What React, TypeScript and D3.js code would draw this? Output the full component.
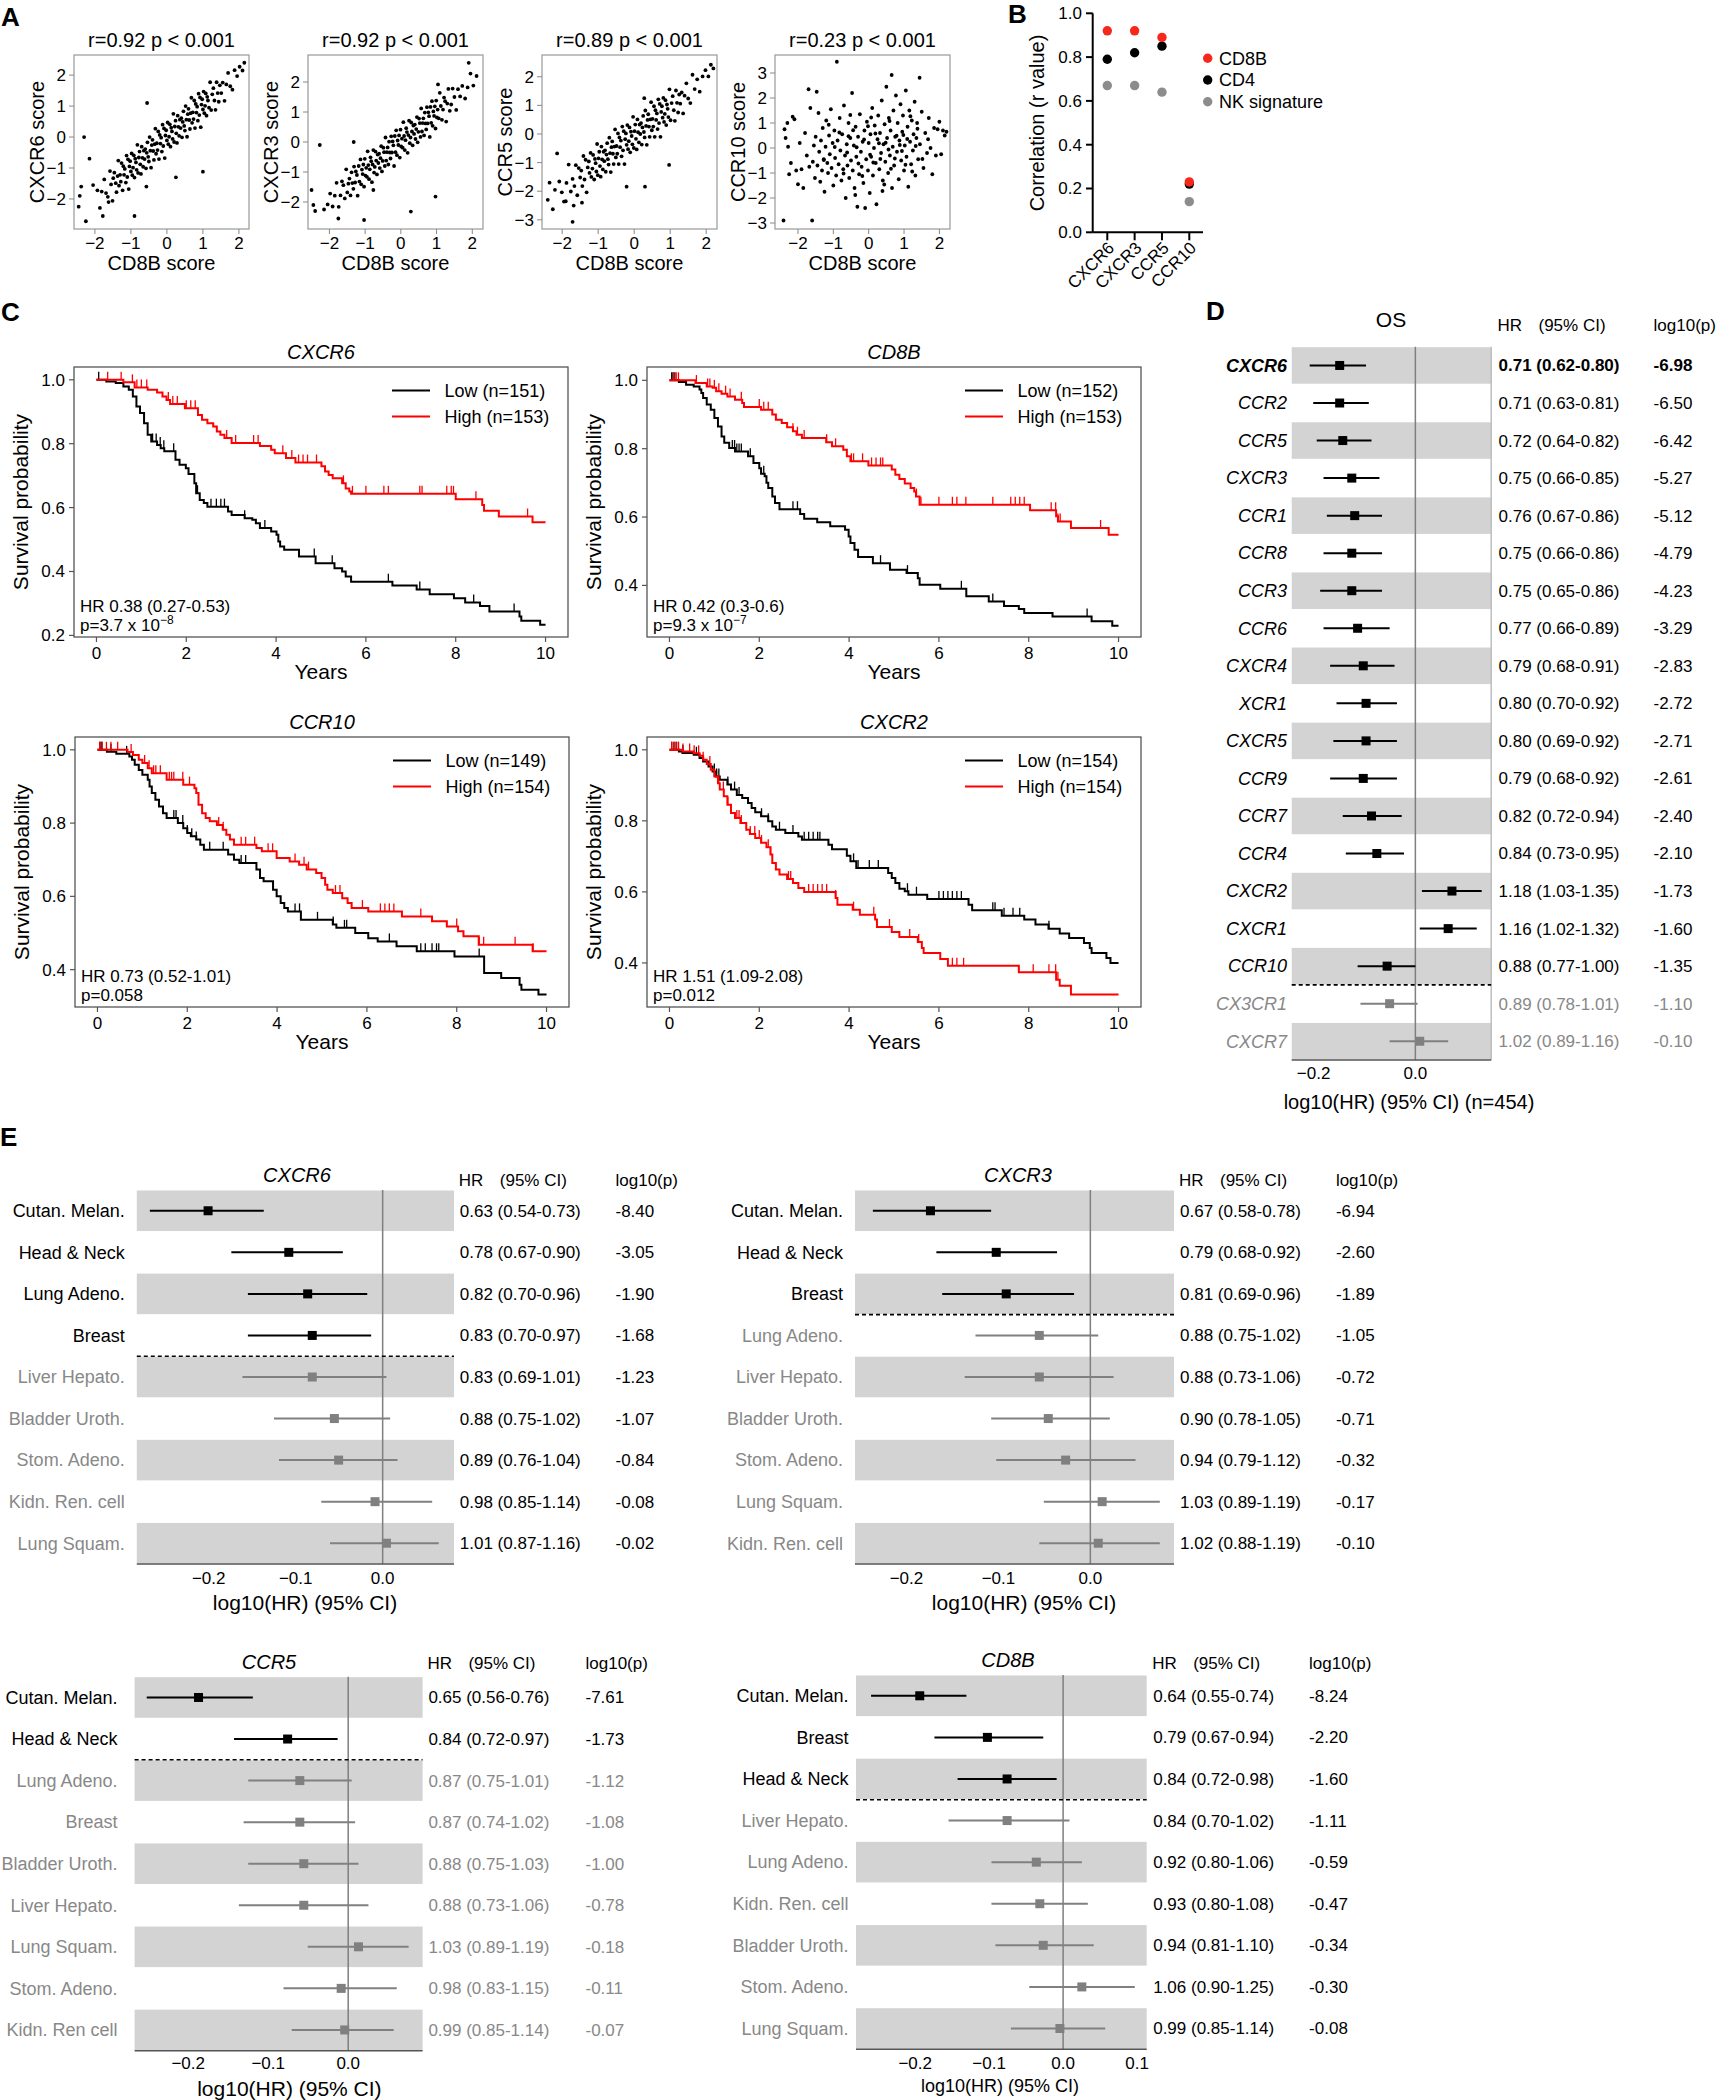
import React from 'react';
import * as d3 from 'd3';

const FONT = "'Liberation Sans', Arial, Helvetica, sans-serif";
const RED = '#ff0000';
const GREY = '#888888';
const BAND = '#d3d3d3';
const fmtSigned = (v: number, d: number) => (v < 0 ? '\u2212' : '') + Math.abs(v).toFixed(d);

// ---------------- Panel A data ----------------
const scatterXLabel = 'CD8B score';
const scatterXTicks = [-2, -1, 0, 1, 2];
const scatterTitles = ['r=0.92 p < 0.001', 'r=0.92 p < 0.001', 'r=0.89 p < 0.001', 'r=0.23 p < 0.001'];
const scatterYLabels = ['CXCR6 score', 'CXCR3 score', 'CCR5 score', 'CCR10 score'];

const ptsCXCR6 = [[-2.45,-2.25],[-2.38,-1.6],[-2.3,0.0],[-2.25,-2.72],[-2.42,-1.9],[-2.15,-0.7],[-1.78,-2.55],[-0.9,-2.55],[-0.55,1.1],[1.0,-1.12],[0.25,-1.3],[-0.57,-1.6],[-2.05,-1.55],[-1.62,-2.1],
[-1.93,-1.72],[-1.86,-2.29],[-1.81,-1.76],[-1.74,-1.37],[-1.69,-1.81],[-1.64,-1.93],[-1.58,-1.1],[-1.55,-1.53],[-1.51,-2.06],[-1.49,-1.33],[-1.46,-1.15],[-1.42,-1.49],[-1.4,-1.78],[-1.37,-1.26],[-1.35,-0.76],[-1.33,-1.57],[-1.3,-1.22],[-1.28,-1.44],[-1.26,-0.84],[-1.23,-1.72],[-1.21,-0.94],[-1.19,-1.22],[-1.17,-1.03],[-1.14,-1.47],[-1.12,-0.6],[-1.1,-1.29],[-1.08,-0.72],[-1.06,-1.68],[-1.04,-0.95],[-1.02,-0.78],[-1.0,-1.11],[-0.98,-0.53],[-0.96,-1.23],[-0.94,-0.99],[-0.92,-0.59],[-0.9,-1.31],[-0.88,-0.7],[-0.86,-0.82],[-0.84,-1.06],[-0.82,-0.25],[-0.8,-1.16],[-0.78,-0.66],[-0.76,-0.47],[-0.74,-0.88],[-0.72,-1.19],[-0.7,-0.31],[-0.68,-0.67],[-0.66,-0.96],[-0.64,-0.44],[-0.62,-0.71],[-0.6,-0.39],[-0.58,-1.01],[-0.56,-0.51],[-0.54,-0.17],[-0.52,-0.64],[-0.5,-0.79],[-0.48,0.0],[-0.46,-0.44],[-0.44,-0.99],[-0.42,-0.26],[-0.4,-0.09],[-0.38,-0.45],[-0.36,-0.74],[-0.34,-0.23],[-0.32,0.27],[-0.3,-0.54],[-0.28,-0.2],[-0.26,-0.42],[-0.24,0.18],[-0.22,-0.71],[-0.2,0.07],[-0.18,-0.21],[-0.16,-0.02],[-0.14,-0.47],[-0.12,0.4],[-0.1,-0.29],[-0.08,0.28],[-0.06,-0.68],[-0.04,0.05],[-0.02,0.22],[0.0,-0.11],[0.02,0.47],[0.04,-0.23],[0.06,0.01],[0.08,0.41],[0.1,-0.31],[0.12,0.3],[0.14,0.18],[0.16,-0.06],[0.18,0.75],[0.2,-0.16],[0.22,0.34],[0.24,0.53],[0.26,0.12],[0.28,-0.19],[0.3,0.69],[0.32,0.33],[0.34,0.04],[0.36,0.56],[0.38,0.29],[0.4,0.61],[0.42,-0.01],[0.44,0.49],[0.46,0.83],[0.48,0.36],[0.5,0.21],[0.52,1.0],[0.54,0.56],[0.56,0.01],[0.58,0.74],[0.6,0.91],[0.62,0.55],[0.64,0.26],[0.66,0.77],[0.68,1.27],[0.7,0.46],[0.72,0.8],[0.74,0.58],[0.76,1.18],[0.78,0.29],[0.8,1.07],[0.82,0.79],[0.84,0.98],[0.86,0.53],[0.88,1.4],[0.9,0.71],[0.92,1.28],[0.94,0.32],[0.96,1.05],[0.98,1.22],[1.0,0.89],[1.02,1.47],[1.04,0.77],[1.06,1.01],[1.08,1.41],[1.1,0.69],[1.12,1.3],[1.14,1.18],[1.17,0.95],[1.2,1.77],[1.23,0.87],[1.26,1.38],[1.29,1.58],[1.32,1.18],[1.35,0.88],[1.38,1.77],[1.41,1.42],[1.44,1.14],[1.47,1.67],[1.51,1.42],[1.55,1.76],[1.6,1.17],[1.65,1.7],[1.7,2.07],[1.76,1.64],[1.82,1.53],[1.88,2.16],[1.95,1.97],[2.02,2.27],[2.1,2.15],[2.15,2.4]];

const ptsCXCR3 = [[-2.27,-0.1],[-1.32,0.0],[-1.03,-2.6],[-1.75,-2.55],[0.28,-2.32],[0.97,-1.82],[1.04,1.92],[1.9,2.64],[-2.45,-2.1],[-2.5,-1.6],[-2.4,-2.3],[-2.15,-2.25],[-0.77,-1.6],
[-2.05,-2.08],[-1.98,-1.72],[-1.91,-2.15],[-1.85,-1.79],[-1.8,-1.36],[-1.74,-2.16],[-1.69,-1.78],[-1.65,-1.31],[-1.61,-1.44],[-1.57,-1.88],[-1.53,-0.91],[-1.5,-1.68],[-1.47,-1.39],[-1.44,-1.22],[-1.41,-1.78],[-1.38,-1.01],[-1.36,-1.37],[-1.33,-1.56],[-1.31,-0.82],[-1.28,-1.35],[-1.26,-0.98],[-1.23,-1.1],[-1.21,-1.79],[-1.18,-0.8],[-1.16,-1.32],[-1.13,-0.58],[-1.11,-1.41],[-1.09,-0.92],[-1.07,-1.07],[-1.05,-0.75],[-1.03,-1.49],[-1.01,-0.56],[-0.99,-1.12],[-0.97,-0.86],[-0.95,-1.16],[-0.93,-0.31],[-0.91,-0.77],[-0.89,-1.24],[-0.87,-0.91],[-0.85,-0.51],[-0.83,-0.64],[-0.81,-1.34],[-0.79,-0.75],[-0.77,-0.27],[-0.75,-1.02],[-0.73,-0.83],[-0.71,-0.32],[-0.69,-0.62],[-0.67,-1.08],[-0.65,-0.42],[-0.63,-0.7],[-0.61,-0.39],[-0.59,-0.87],[-0.57,-0.54],[-0.55,-0.14],[-0.53,-0.98],[-0.51,-0.63],[-0.49,-0.19],[-0.47,-0.34],[-0.45,-0.8],[-0.43,0.15],[-0.41,-0.62],[-0.39,-0.34],[-0.37,-0.18],[-0.35,-0.75],[-0.33,0.01],[-0.31,-0.35],[-0.29,-0.55],[-0.27,0.19],[-0.25,-0.35],[-0.23,0.02],[-0.21,-0.11],[-0.19,-0.8],[-0.17,0.2],[-0.15,-0.34],[-0.13,0.39],[-0.11,-0.44],[-0.09,0.05],[-0.07,-0.1],[-0.05,0.22],[-0.03,-0.52],[-0.01,0.41],[0.01,-0.15],[0.03,0.11],[0.05,-0.19],[0.07,0.66],[0.09,0.2],[0.11,-0.27],[0.13,0.06],[0.15,0.46],[0.17,0.33],[0.19,-0.36],[0.21,0.23],[0.23,0.71],[0.25,-0.04],[0.27,0.15],[0.29,0.65],[0.31,0.35],[0.33,-0.11],[0.35,0.55],[0.37,0.27],[0.39,0.58],[0.41,0.1],[0.43,0.43],[0.45,0.83],[0.47,-0.01],[0.49,0.34],[0.51,0.78],[0.53,0.63],[0.55,0.17],[0.57,1.12],[0.59,0.35],[0.61,0.63],[0.63,0.79],[0.65,0.22],[0.67,0.98],[0.69,0.62],[0.71,0.42],[0.73,1.16],[0.75,0.62],[0.77,0.99],[0.79,0.86],[0.81,0.17],[0.83,1.17],[0.85,0.64],[0.87,1.36],[0.89,0.54],[0.91,1.02],[0.93,0.87],[0.95,1.19],[0.97,0.45],[0.99,1.38],[1.01,0.82],[1.03,1.08],[1.06,0.79],[1.09,1.64],[1.12,1.2],[1.15,0.74],[1.18,1.08],[1.21,1.48],[1.24,1.36],[1.27,0.68],[1.3,1.28],[1.33,1.77],[1.37,1.04],[1.41,1.25],[1.45,1.78],[1.5,1.5],[1.55,1.07],[1.6,1.76],[1.66,1.52],[1.72,1.87],[1.8,1.45],[1.87,1.82],[1.95,2.28],[2.03,1.88],[2.12,2.2]];

const ptsCCR5 = [[-2.26,-2.63],[-1.71,-3.07],[-2.14,-0.68],[-0.21,-1.84],[0.3,-1.84],[0.97,-1.08],[0.28,1.25],[-2.4,-2.3],[-2.35,-1.7],[-1.68,-2.5],[-1.45,-2.4],[-1.9,-2.35],[-2.2,-1.95],
[-2.08,-1.66],[-2.01,-2.04],[-1.95,-2.36],[-1.88,-1.71],[-1.82,-1.07],[-1.76,-2.01],[-1.71,-1.57],[-1.66,-1.82],[-1.62,-1.09],[-1.58,-2.14],[-1.54,-1.19],[-1.5,-1.52],[-1.47,-1.28],[-1.44,-1.82],[-1.41,-0.77],[-1.38,-1.59],[-1.35,-0.9],[-1.32,-2.04],[-1.29,-1.17],[-1.26,-0.96],[-1.24,-1.36],[-1.21,-0.66],[-1.19,-1.5],[-1.16,-1.21],[-1.14,-0.73],[-1.11,-1.59],[-1.09,-0.87],[-1.07,-1.02],[-1.05,-1.31],[-1.03,-0.35],[-1.01,-1.44],[-0.99,-0.85],[-0.97,-0.62],[-0.95,-1.12],[-0.93,-1.49],[-0.91,-0.44],[-0.89,-0.89],[-0.87,-1.24],[-0.85,-0.62],[-0.83,-0.95],[-0.81,-0.57],[-0.79,-1.32],[-0.77,-0.72],[-0.75,-0.32],[-0.73,-0.88],[-0.71,-1.07],[-0.69,-0.13],[-0.67,-0.67],[-0.65,-1.33],[-0.63,-0.46],[-0.61,-0.26],[-0.59,-0.69],[-0.57,-1.05],[-0.55,-0.44],[-0.53,0.16],[-0.51,-0.82],[-0.49,-0.42],[-0.47,-0.69],[-0.45,0.02],[-0.43,-1.05],[-0.41,-0.12],[-0.39,-0.46],[-0.37,-0.23],[-0.35,-0.78],[-0.33,0.26],[-0.31,-0.57],[-0.29,0.1],[-0.27,-1.05],[-0.25,-0.18],[-0.23,0.02],[-0.21,-0.38],[-0.19,0.31],[-0.17,-0.53],[-0.15,-0.25],[-0.13,0.23],[-0.11,-0.64],[-0.09,0.08],[-0.07,-0.07],[-0.05,-0.36],[-0.03,0.6],[-0.01,-0.49],[0.01,0.1],[0.03,0.33],[0.05,-0.17],[0.07,-0.54],[0.09,0.51],[0.11,0.06],[0.13,-0.29],[0.15,0.33],[0.17,0.0],[0.19,0.38],[0.21,-0.37],[0.23,0.23],[0.25,0.63],[0.27,0.07],[0.29,-0.12],[0.31,0.82],[0.33,0.28],[0.35,-0.38],[0.37,0.49],[0.39,0.69],[0.41,0.26],[0.43,-0.1],[0.45,0.51],[0.47,1.11],[0.49,0.13],[0.51,0.53],[0.53,0.26],[0.55,0.97],[0.57,-0.1],[0.59,0.83],[0.61,0.49],[0.63,0.72],[0.65,0.17],[0.67,1.21],[0.69,0.38],[0.71,1.05],[0.73,-0.1],[0.75,0.77],[0.77,0.97],[0.79,0.57],[0.81,1.26],[0.83,0.42],[0.85,0.7],[0.87,1.18],[0.89,0.31],[0.91,1.03],[0.93,0.88],[0.95,0.59],[0.98,1.56],[1.01,0.48],[1.04,1.08],[1.07,1.32],[1.1,0.83],[1.13,0.46],[1.16,1.52],[1.19,1.09],[1.22,0.75],[1.25,1.38],[1.28,1.06],[1.32,1.45],[1.36,0.72],[1.4,1.34],[1.45,1.77],[1.5,1.24],[1.56,1.08],[1.62,2.07],[1.68,1.57],[1.75,1.91],[1.82,1.48],[1.9,2.01],[1.98,2.23],[2.06,2.01],[2.13,2.42],[2.2,2.29]];

const ptsCCR10 = [[-2.41,-2.9],[-2.38,0.75],[-2.35,0.4],[-2.3,1.0],[-2.28,0.05],[-2.25,-1.05],[-2.2,-0.6],[-2.15,1.25],[-2.1,1.15],[-2.05,-0.9],[-2.0,-1.45],[-1.95,0.2],[-1.9,-0.85],[-1.85,-1.6],[-1.8,0.6],[-1.75,-0.3],[-1.7,2.35],[-1.68,-0.75],[-1.65,1.6],[-1.6,-2.9],[-1.58,-0.55],[-1.55,0.1],[-1.52,-1.2],[-1.5,0.45],[-1.47,2.25],[-1.45,-0.7],[-1.42,1.4],[-1.4,-0.15],[-1.37,-1.35],[-1.35,0.3],[-1.32,-0.9],[-1.3,0.8],[-1.27,-0.45],[-1.25,-1.75],[-1.22,0.05],[-1.2,1.1],[-1.17,-0.6],[-1.15,-1.0],[-1.12,0.5],[-1.1,-0.25],[-1.07,1.55],[-1.05,-0.8],[-1.02,0.2],[-1.0,-1.5],[-0.97,0.7],[-0.95,-0.4],[-0.92,-1.1],[-0.9,3.45],[-0.88,0.3],[-0.85,-0.65],[-0.82,1.2],[-0.8,-0.1],[-0.77,-1.3],[-0.75,0.55],[-0.72,-0.85],[-0.7,1.7],[-0.67,-0.3],[-0.65,-2.0],[-0.62,0.15],[-0.6,-0.7],[-0.57,1.0],[-0.55,-1.2],[-0.52,0.4],[-0.5,-0.5],[-0.47,2.2],[-0.45,-0.9],[-0.42,0.1],[-0.4,-1.6],[-0.37,0.85],[-0.35,-0.35],[-0.32,-2.35],[-0.3,0.45],[-0.27,-1.05],[-0.25,1.35],[-0.22,-0.15],[-0.2,-0.75],[-0.17,0.25],[-0.15,-1.4],[-0.12,0.7],[-0.1,-2.4],[-0.07,-0.45],[-0.05,1.05],[-0.02,-0.9],[0.0,0.2],[0.03,-1.8],[0.05,0.55],[0.07,-0.35],[0.1,1.6],[0.12,-1.1],[0.15,0.0],[0.17,0.9],[0.2,-0.6],[0.22,-2.25],[0.25,0.35],[0.27,1.3],[0.3,-0.85],[0.32,0.6],[0.35,-0.2],[0.37,1.9],[0.4,-1.3],[0.42,0.15],[0.45,0.95],[0.47,-0.55],[0.5,2.45],[0.52,0.4],[0.55,-1.0],[0.57,1.2],[0.6,-0.3],[0.62,0.7],[0.65,2.92],[0.66,-1.6],[0.68,0.05],[0.7,1.5],[0.72,-0.7],[0.75,0.45],[0.77,2.1],[0.8,-0.15],[0.82,1.0],[0.85,-1.25],[0.87,0.3],[0.9,1.75],[0.92,-0.5],[0.95,0.65],[0.97,1.3],[1.0,-0.9],[1.02,0.1],[1.05,2.3],[1.07,-0.35],[1.1,0.85],[1.12,-1.55],[1.15,1.5],[1.17,0.25],[1.2,-0.65],[1.22,1.1],[1.25,-0.1],[1.27,0.55],[1.3,1.85],[1.32,-1.1],[1.35,0.4],[1.37,1.0],[1.4,-0.45],[1.44,2.81],[1.45,0.15],[1.5,1.45],[1.55,-0.8],[1.6,0.6],[1.65,-0.2],[1.7,1.2],[1.75,0.0],[1.8,-1.05],[1.85,0.8],[1.9,-0.3],[1.95,0.75],[2.0,1.05],[2.05,-0.25],[2.1,0.7],[2.15,0.5],[2.2,0.65],
[-0.83,0.62],[-0.61,-0.18],[-0.44,0.71],[-0.29,-0.62],[-0.13,0.34],[0.04,-0.27],[0.19,0.58],[0.33,-0.44],[0.48,0.21],[0.63,-0.83],[0.79,0.49],[0.94,-0.12],[1.09,0.36],[1.23,-0.94],[1.38,0.77],[-0.71,-1.02],[-0.52,1.32],[-0.34,0.03],[-0.18,-1.12],[-0.02,0.87],[0.13,-0.58],[0.29,0.19],[0.44,-1.46],[0.59,1.08],[0.74,-0.42],[0.88,0.12],[1.04,-0.67],[1.18,1.27],[1.33,0.08],[-0.96,0.04],[-1.13,0.93],[-1.27,-0.48],[-0.57,0.47],[0.07,1.22],[0.56,-0.06],[0.98,0.52],[1.52,-0.44],[1.68,0.35],[-0.38,-1.88],[0.39,-1.72]];

// ---------------- Panel B data ----------------
const corrGenes = ['CXCR6', 'CXCR3', 'CCR5', 'CCR10'];
const corrCD8B = [0.92, 0.92, 0.89, 0.23];
const corrCD4 = [0.79, 0.82, 0.85, 0.22];
const corrNK = [0.67, 0.67, 0.64, 0.14];
const corrSeriesNames = ['CD8B', 'CD4', 'NK signature'];
const corrColors = ['#f5281b', '#000000', '#8c8c8c'];
const corrTicks = [0, 0.2, 0.4, 0.6, 0.8, 1.0];

// ---------------- Panel C data (Kaplan-Meier steps: [years, survival]) ----------------
const kmXTicks = [0, 2, 4, 6, 8, 10];
const cxcr6Low = [[0.22,0.995],[0.43,0.99],[0.6,0.979],[0.72,0.969],[0.81,0.948],[0.89,0.916],[0.97,0.896],[1.06,0.864],[1.14,0.828],[1.22,0.807],[1.35,0.796],[1.43,0.786],[1.51,0.776],[1.76,0.75],[1.85,0.734],[1.99,0.723],[2.05,0.705],[2.18,0.676],[2.22,0.645],[2.3,0.624],[2.39,0.614],[2.47,0.603],[2.93,0.588],[3.01,0.577],[3.3,0.567],[3.47,0.562],[3.55,0.551],[3.64,0.536],[3.89,0.525],[4.01,0.515],[4.05,0.494],[4.09,0.478],[4.18,0.468],[4.51,0.447],[4.88,0.426],[5.3,0.41],[5.47,0.4],[5.55,0.384],[5.67,0.368],[6.59,0.356],[7.13,0.344],[7.42,0.329],[7.96,0.316],[8.21,0.303],[8.54,0.292],[8.75,0.275],[9.42,0.259],[9.46,0.246],[9.88,0.233]];
const cxcr6LowCens = [0.05,1.25,1.33,1.42,1.5,1.72,2.25,2.55,2.67,2.77,2.85,3.3,3.75,4.85,5.25,6.5,7.2,8.4,9.3];
const cxcr6High = [[0.6,0.992],[0.85,0.976],[1.14,0.969],[1.35,0.96],[1.47,0.948],[1.56,0.937],[1.64,0.924],[1.97,0.911],[2.26,0.89],[2.35,0.875],[2.47,0.864],[2.6,0.854],[2.68,0.838],[2.76,0.828],[2.85,0.818],[3.01,0.802],[3.64,0.793],[3.89,0.781],[3.97,0.77],[4.22,0.755],[4.43,0.741],[5.01,0.729],[5.09,0.713],[5.17,0.702],[5.26,0.692],[5.47,0.676],[5.55,0.66],[5.63,0.65],[5.67,0.643],[8.0,0.626],[8.59,0.608],[8.63,0.59],[8.96,0.572],[9.71,0.554]];
const cxcr6HighCens = [0.25,0.55,0.8,0.9,1.0,1.12,1.6,1.7,1.8,2.0,2.1,2.2,2.9,3.1,3.5,3.6,4.15,4.35,4.5,4.6,4.7,4.9,5.5,5.7,6.0,6.4,6.5,7.2,7.25,7.8,7.9,7.95,8.45,9.6];

const cd8bLow = [[0.21,0.995],[0.37,0.987],[0.54,0.982],[0.67,0.973],[0.71,0.963],[0.75,0.948],[0.83,0.929],[0.92,0.914],[1.0,0.89],[1.08,0.865],[1.16,0.836],[1.22,0.817],[1.33,0.802],[1.46,0.792],[1.75,0.778],[1.87,0.758],[2.0,0.743],[2.04,0.727],[2.12,0.719],[2.16,0.7],[2.2,0.685],[2.29,0.66],[2.35,0.641],[2.45,0.623],[2.91,0.609],[3.0,0.595],[3.29,0.585],[3.58,0.573],[3.91,0.563],[3.99,0.543],[4.03,0.524],[4.12,0.504],[4.2,0.483],[4.53,0.465],[4.91,0.446],[5.28,0.436],[5.53,0.421],[5.57,0.402],[6.03,0.39],[6.61,0.368],[7.11,0.353],[7.45,0.34],[7.78,0.331],[7.9,0.319],[8.53,0.309],[9.4,0.295],[9.86,0.282]];
const cd8bLowCens = [0.05,0.08,0.12,1.4,1.45,1.5,1.55,1.6,1.8,2.1,2.75,2.85,4.7,5.3,6.5,7.2,9.3];
const cd8bHigh = [[0.58,0.992],[0.83,0.982],[0.96,0.978],[1.04,0.968],[1.16,0.961],[1.29,0.953],[1.46,0.943],[1.62,0.934],[1.66,0.922],[2.04,0.914],[2.29,0.9],[2.37,0.885],[2.5,0.875],[2.62,0.863],[2.75,0.851],[2.83,0.841],[2.95,0.831],[3.49,0.819],[3.62,0.807],[3.87,0.797],[3.95,0.778],[4.03,0.763],[4.43,0.751],[4.95,0.739],[5.03,0.724],[5.12,0.711],[5.24,0.698],[5.37,0.685],[5.45,0.675],[5.49,0.66],[5.57,0.636],[8.03,0.62],[8.61,0.602],[8.65,0.587],[8.94,0.568],[9.78,0.548]];
const cd8bHighCens = [0.1,0.15,0.2,0.6,0.85,0.9,1.0,1.1,1.25,1.35,1.6,2.0,2.1,2.2,2.75,2.85,3.0,3.5,3.7,4.05,4.1,4.3,4.5,4.6,4.7,4.75,5.5,5.6,6.0,6.3,6.4,6.6,7.2,7.6,7.7,7.8,7.9,8.5,8.6,8.65,8.7,9.6];

const ccr10Low = [[0.21,0.995],[0.42,0.989],[0.71,0.982],[0.77,0.973],[0.83,0.959],[0.92,0.945],[1.0,0.932],[1.12,0.918],[1.16,0.9],[1.21,0.882],[1.29,0.864],[1.37,0.845],[1.46,0.827],[1.54,0.814],[1.79,0.8],[1.91,0.786],[2.0,0.773],[2.08,0.764],[2.2,0.755],[2.29,0.741],[2.37,0.727],[2.91,0.714],[3.04,0.7],[3.16,0.691],[3.54,0.673],[3.62,0.65],[3.7,0.641],[3.91,0.618],[3.99,0.6],[4.08,0.582],[4.16,0.568],[4.24,0.559],[4.53,0.536],[5.24,0.523],[5.32,0.514],[5.74,0.5],[6.03,0.486],[6.24,0.477],[6.66,0.464],[7.11,0.45],[7.95,0.436],[8.61,0.391],[8.99,0.377],[9.4,0.359],[9.44,0.345],[9.82,0.332]];
const ccr10LowCens = [0.05,0.08,0.1,0.3,0.65,1.7,1.75,1.9,2.0,2.1,2.2,2.5,2.8,3.2,3.3,4.4,4.5,4.9,5.25,5.5,5.55,6.5,7.2,7.3,7.45,7.55,7.6,8.5];
const ccr10High = [[0.67,0.994],[0.79,0.986],[0.92,0.973],[1.0,0.964],[1.12,0.95],[1.21,0.936],[1.54,0.918],[1.91,0.905],[2.16,0.895],[2.2,0.882],[2.25,0.85],[2.33,0.827],[2.41,0.814],[2.5,0.805],[2.66,0.795],[2.79,0.782],[2.87,0.768],[2.95,0.755],[3.04,0.741],[3.54,0.732],[3.66,0.723],[3.99,0.705],[4.28,0.695],[4.49,0.686],[4.66,0.673],[4.87,0.664],[4.99,0.65],[5.07,0.632],[5.12,0.618],[5.24,0.609],[5.45,0.595],[5.57,0.582],[5.66,0.568],[6.03,0.559],[6.78,0.545],[7.45,0.532],[7.78,0.518],[8.03,0.505],[8.15,0.491],[8.49,0.468],[9.69,0.45]];
const ccr10HighCens = [0.05,0.1,0.2,0.3,0.45,0.75,1.05,1.15,1.25,1.3,1.4,1.6,1.65,1.7,1.9,2.05,2.7,2.8,3.2,3.3,3.5,3.8,3.9,4.4,4.6,4.7,5.3,5.4,5.9,6.3,6.4,6.5,6.6,7.2,8.0,8.5,8.6,9.3,9.7];

const cxcr2Low = [[0.21,0.995],[0.29,0.991],[0.54,0.986],[0.67,0.977],[0.75,0.967],[0.87,0.953],[0.96,0.939],[1.04,0.925],[1.12,0.916],[1.29,0.902],[1.37,0.888],[1.5,0.873],[1.62,0.864],[1.75,0.85],[1.83,0.836],[1.91,0.824],[2.04,0.813],[2.2,0.799],[2.29,0.784],[2.37,0.775],[2.58,0.766],[2.87,0.756],[2.95,0.747],[3.54,0.733],[3.62,0.72],[3.95,0.702],[4.03,0.686],[4.16,0.667],[4.87,0.653],[4.95,0.639],[5.03,0.625],[5.12,0.609],[5.24,0.602],[5.32,0.592],[5.74,0.58],[6.66,0.564],[6.74,0.548],[7.4,0.533],[7.9,0.522],[8.15,0.508],[8.44,0.496],[8.69,0.483],[8.9,0.47],[9.23,0.456],[9.36,0.442],[9.4,0.428],[9.73,0.414],[9.82,0.4]];
const cxcr2LowCens = [0.05,0.1,0.15,0.2,0.3,0.6,1.0,1.05,1.1,1.3,1.45,1.55,2.05,2.2,2.45,2.75,3.0,3.1,3.2,3.3,3.35,4.1,4.2,4.45,4.65,5.3,5.5,6.0,6.1,6.2,6.3,6.4,6.5,7.2,7.25,7.45,7.65,7.8,8.45];
const cxcr2High = [[0.29,0.995],[0.54,0.99],[0.67,0.983],[0.75,0.972],[0.83,0.96],[0.92,0.944],[1.0,0.925],[1.08,0.906],[1.12,0.888],[1.21,0.869],[1.29,0.845],[1.37,0.822],[1.46,0.808],[1.58,0.794],[1.71,0.775],[1.79,0.763],[1.91,0.752],[2.04,0.738],[2.16,0.726],[2.25,0.705],[2.29,0.681],[2.37,0.663],[2.45,0.649],[2.62,0.636],[2.75,0.625],[2.87,0.611],[3.0,0.6],[3.7,0.583],[3.74,0.564],[4.08,0.55],[4.24,0.536],[4.58,0.522],[4.62,0.501],[4.95,0.487],[5.12,0.473],[5.53,0.459],[5.62,0.442],[5.66,0.428],[6.03,0.411],[6.2,0.392],[7.78,0.374],[8.61,0.353],[8.69,0.336],[8.94,0.311]];
const cxcr2HighCens = [0.05,0.1,0.15,0.2,0.3,0.45,0.55,0.65,0.75,0.9,1.0,1.1,1.2,1.3,1.5,1.55,1.6,1.8,1.9,2.0,2.05,2.2,2.25,2.65,2.7,3.1,3.2,3.3,3.4,3.5,3.7,4.1,4.55,4.9,5.35,5.55,6.3,6.4,6.55,8.1,8.45,8.6,8.65];

// ---------------- Panel D data ----------------
const dGenes = ['CXCR6','CCR2','CCR5','CXCR3','CCR1','CCR8','CCR3','CCR6','CXCR4','XCR1','CXCR5','CCR9','CCR7','CCR4','CXCR2','CXCR1','CCR10','CX3CR1','CXCR7'];
const dHR = [0.71,0.71,0.72,0.75,0.76,0.75,0.75,0.77,0.79,0.80,0.80,0.79,0.82,0.84,1.18,1.16,0.88,0.89,1.02];
const dLo = [0.62,0.63,0.64,0.66,0.67,0.66,0.65,0.66,0.68,0.70,0.69,0.68,0.72,0.73,1.03,1.02,0.77,0.78,0.89];
const dHi = [0.80,0.81,0.82,0.85,0.86,0.86,0.86,0.89,0.91,0.92,0.92,0.92,0.94,0.95,1.35,1.32,1.00,1.01,1.16];
const dP = [-6.98,-6.50,-6.42,-5.27,-5.12,-4.79,-4.23,-3.29,-2.83,-2.72,-2.71,-2.61,-2.40,-2.10,-1.73,-1.60,-1.35,-1.10,-0.10];

// ---------------- Panel E data ----------------
const eCXCR6Labels = ['Cutan. Melan.','Head & Neck','Lung Adeno.','Breast','Liver Hepato.','Bladder Uroth.','Stom. Adeno.','Kidn. Ren. cell','Lung Squam.'];
const eCXCR6HR = [0.63,0.78,0.82,0.83,0.83,0.88,0.89,0.98,1.01];
const eCXCR6Lo = [0.54,0.67,0.70,0.70,0.69,0.75,0.76,0.85,0.87];
const eCXCR6Hi = [0.73,0.90,0.96,0.97,1.01,1.02,1.04,1.14,1.16];
const eCXCR6P = [-8.40,-3.05,-1.90,-1.68,-1.23,-1.07,-0.84,-0.08,-0.02];

const eCXCR3Labels = ['Cutan. Melan.','Head & Neck','Breast','Lung Adeno.','Liver Hepato.','Bladder Uroth.','Stom. Adeno.','Lung Squam.','Kidn. Ren. cell'];
const eCXCR3HR = [0.67,0.79,0.81,0.88,0.88,0.90,0.94,1.03,1.02];
const eCXCR3Lo = [0.58,0.68,0.69,0.75,0.73,0.78,0.79,0.89,0.88];
const eCXCR3Hi = [0.78,0.92,0.96,1.02,1.06,1.05,1.12,1.19,1.19];
const eCXCR3P = [-6.94,-2.60,-1.89,-1.05,-0.72,-0.71,-0.32,-0.17,-0.10];

const eCCR5Labels = ['Cutan. Melan.','Head & Neck','Lung Adeno.','Breast','Bladder Uroth.','Liver Hepato.','Lung Squam.','Stom. Adeno.','Kidn. Ren cell'];
const eCCR5HR = [0.65,0.84,0.87,0.87,0.88,0.88,1.03,0.98,0.99];
const eCCR5Lo = [0.56,0.72,0.75,0.74,0.75,0.73,0.89,0.83,0.85];
const eCCR5Hi = [0.76,0.97,1.01,1.02,1.03,1.06,1.19,1.15,1.14];
const eCCR5P = [-7.61,-1.73,-1.12,-1.08,-1.00,-0.78,-0.18,-0.11,-0.07];

const eCD8BLabels = ['Cutan. Melan.','Breast','Head & Neck','Liver Hepato.','Lung Adeno.','Kidn. Ren. cell','Bladder Uroth.','Stom. Adeno.','Lung Squam.'];
const eCD8BHR = [0.64,0.79,0.84,0.84,0.92,0.93,0.94,1.06,0.99];
const eCD8BLo = [0.55,0.67,0.72,0.70,0.80,0.80,0.81,0.90,0.85];
const eCD8BHi = [0.74,0.94,0.98,1.02,1.06,1.08,1.10,1.25,1.14];
const eCD8BP = [-8.24,-2.20,-1.60,-1.11,-0.59,-0.47,-0.34,-0.30,-0.08];

// ============ Components ============
function Scatter({ left, pts, xDomain, yDomain, yTicks, title, ylab }: any) {
  const top = 55, w = 175, h = 174;
  const x = d3.scaleLinear().domain(xDomain).range([left, left + w]);
  const y = d3.scaleLinear().domain(yDomain).range([top + h, top]);
  return (
    <g>
      <rect x={left} y={top} width={w} height={h} fill="none" stroke="#a0a0a0" strokeWidth={1.3} />
      {pts.map((p: number[], i: number) => (
        <circle key={i} cx={x(p[0])} cy={y(p[1])} r={1.9} fill="#000" />
      ))}
      {scatterXTicks.map((t) => (
        <g key={t}>
          <line x1={x(t)} x2={x(t)} y1={top + h} y2={top + h + 5} stroke="#888" />
          <text x={x(t)} y={top + h + 14} dy="0.35em" textAnchor="middle" fontSize={17}>{fmtSigned(t, 0)}</text>
        </g>
      ))}
      {yTicks.map((t: number) => (
        <g key={t}>
          <line x1={left - 5} x2={left} y1={y(t)} y2={y(t)} stroke="#888" />
          <text x={left - 8} y={y(t)} dy="0.35em" textAnchor="end" fontSize={17}>{fmtSigned(t, 0)}</text>
        </g>
      ))}
      <text x={left + w / 2} y={top - 15} dy="0.35em" textAnchor="middle" fontSize={20}>{title}</text>
      <text transform={`translate(${left - 37},${top + h / 2}) rotate(-90)`} dy="0.35em" textAnchor="middle" fontSize={20}>{ylab}</text>
      <text x={left + w / 2} y={top + h + 34} dy="0.35em" textAnchor="middle" fontSize={20}>{scatterXLabel}</text>
    </g>
  );
}

function PanelB() {
  const x = d3.scalePoint<string>().domain(corrGenes).range([1107.3, 1189.3]);
  const y = d3.scaleLinear().domain([0, 1]).range([232.3, 13.3]);
  const series = [corrNK, corrCD4, corrCD8B];
  const colors = [corrColors[2], corrColors[1], corrColors[0]];
  return (
    <g>
      <line x1={1092.7} x2={1092.7} y1={y(1)} y2={y(0)} stroke="#000" strokeWidth={2} />
      <line x1={1092.7} x2={1203} y1={y(0)} y2={y(0)} stroke="#000" strokeWidth={2} />
      {corrTicks.map((t) => (
        <g key={t}>
          <line x1={1086} x2={1092.7} y1={y(t)} y2={y(t)} stroke="#000" strokeWidth={2} />
          <text x={1082} y={y(t)} dy="0.35em" textAnchor="end" fontSize={17}>{t.toFixed(1)}</text>
        </g>
      ))}
      {corrGenes.map((g) => (
        <g key={g}>
          <line x1={x(g)} x2={x(g)} y1={y(0)} y2={y(0) + 8} stroke="#000" strokeWidth={2} />
          <text transform={`translate(${(x(g) as number) + 8},249) rotate(-45)`} textAnchor="end" fontSize={17}>{g}</text>
        </g>
      ))}
      {series.map((s, si) =>
        s.map((v, i) => <circle key={`${si}-${i}`} cx={x(corrGenes[i])} cy={y(v)} r={4.7} fill={colors[si]} />)
      )}
      <text transform="translate(1036.7,123) rotate(-90)" dy="0.35em" textAnchor="middle" fontSize={20}>Correlation (r value)</text>
      {corrSeriesNames.map((n, i) => (
        <g key={n}>
          <circle cx={1207.7} cy={58.3 + i * 21.7} r={4.7} fill={corrColors[i]} />
          <text x={1219} y={58.3 + i * 21.7} dy="0.35em" fontSize={18}>{n}</text>
        </g>
      ))}
    </g>
  );
}

function KM({ cfg }: any) {
  const w = 494, h = 270;
  const { left, top } = cfg;
  const x = d3.scaleLinear().domain([-0.5, 10.5]).range([left, left + w]);
  const y = d3.scaleLinear().domain(cfg.yDomain).range([top + h, top]);
  const line = d3.line<number[]>().x((d) => x(d[0])).y((d) => y(d[1])).curve(d3.curveStepAfter);
  const full = (s: number[][]) => [[0, 1], ...s, [10, s[s.length - 1][1]]];
  const sAt = (s: number[][], t: number) => {
    let v = 1;
    for (const p of s) if (p[0] <= t) v = p[1];
    return v;
  };
  const curve = (s: number[][], cens: number[], color: string) => (
    <g>
      <path d={line(full(s)) as string} fill="none" stroke={color} strokeWidth={2} />
      {cens.map((c, i) => (
        <line key={i} x1={x(c)} x2={x(c)} y1={y(sAt(s, c))} y2={y(sAt(s, c)) - 8} stroke={color} strokeWidth={1.3} />
      ))}
    </g>
  );
  return (
    <g>
      <text x={left + w / 2} y={top - 15.5} dy="0.35em" textAnchor="middle" fontSize={20} fontStyle="italic">{cfg.gene}</text>
      {curve(cfg.low, cfg.lowCens, '#000')}
      {curve(cfg.high, cfg.highCens, RED)}
      <rect x={left} y={top} width={w} height={h} fill="none" stroke="#555" strokeWidth={1.3} />
      {kmXTicks.map((t) => (
        <g key={t}>
          <line x1={x(t)} x2={x(t)} y1={top + h} y2={top + h + 5} stroke="#555" strokeWidth={1.2} />
          <text x={x(t)} y={top + h + 16} dy="0.35em" textAnchor="middle" fontSize={17}>{t}</text>
        </g>
      ))}
      {cfg.yTicks.map((t: number) => (
        <g key={t}>
          <line x1={left - 5} x2={left} y1={y(t)} y2={y(t)} stroke="#555" strokeWidth={1.2} />
          <text x={left - 9} y={y(t)} dy="0.35em" textAnchor="end" fontSize={17}>{t.toFixed(1)}</text>
        </g>
      ))}
      <text x={left + w / 2} y={top + h + 35} dy="0.35em" textAnchor="middle" fontSize={21}>Years</text>
      <text transform={`translate(${left - 53},${top + h / 2}) rotate(-90)`} dy="0.35em" textAnchor="middle" fontSize={21}>Survival probability</text>
      <line x1={left + 318} x2={left + 356} y1={top + 23.4} y2={top + 23.4} stroke="#000" strokeWidth={2} />
      <line x1={left + 318} x2={left + 356} y1={top + 49.4} y2={top + 49.4} stroke={RED} strokeWidth={2} />
      <text x={left + 370.6} y={top + 23.4} dy="0.35em" fontSize={18}>{`Low (n=${cfg.nLow})`}</text>
      <text x={left + 370.6} y={top + 49.4} dy="0.35em" fontSize={18}>{`High (n=${cfg.nHigh})`}</text>
      <text x={left + 6} y={top + 239} dy="0.35em" fontSize={17}>{cfg.hr}</text>
      <text x={left + 6} y={top + 258} dy="0.35em" fontSize={17}>
        {cfg.p}
        {cfg.pExp ? <tspan dy={-7} fontSize={12}>{cfg.pExp}</tspan> : null}
      </text>
    </g>
  );
}

function Forest({ cfg }: any) {
  const x = d3.scaleLinear().domain(cfg.xDomain).range([cfg.plotLeft, cfg.plotRight]);
  const yb = d3.scaleBand<string>().domain(cfg.labels).range([cfg.top, cfg.bottom]);
  const bw = yb.bandwidth();
  const lx = (v: number) => x(Math.log10(v));
  const sq = 9;
  return (
    <g>
      {cfg.labels.map((l: string, i: number) =>
        i % 2 === 0 ? (
          <rect key={l} x={cfg.plotLeft} y={(yb(l) as number) + 0.5} width={cfg.plotRight - cfg.plotLeft} height={bw - 1} fill={BAND} />
        ) : null
      )}
      <line x1={x(0)} x2={x(0)} y1={cfg.top} y2={cfg.bottom} stroke="#7f7f7f" strokeWidth={1.5} />
      {cfg.rightBorder ? (
        <line x1={cfg.plotRight} x2={cfg.plotRight} y1={cfg.top} y2={cfg.bottom} stroke="#bdbdbd" strokeWidth={1.5} />
      ) : null}
      <line x1={cfg.plotLeft} x2={cfg.plotRight} y1={cfg.top + cfg.nBlack * bw} y2={cfg.top + cfg.nBlack * bw} stroke="#000" strokeWidth={1.6} strokeDasharray="4,3" />
      <line x1={cfg.plotLeft} x2={cfg.plotRight} y1={cfg.bottom} y2={cfg.bottom} stroke="#555" strokeWidth={1.5} />
      {cfg.labels.map((l: string, i: number) => {
        const cy = (yb(l) as number) + bw / 2;
        const black = i < cfg.nBlack;
        const mc = black ? '#000' : '#808080';
        const lc = black ? '#000' : GREY;
        const vc = black || !cfg.valGrey ? '#000' : GREY;
        const bold = cfg.boldFirst && i === 0 ? 'bold' : 'normal';
        return (
          <g key={l}>
            <line x1={lx(cfg.lo[i])} x2={lx(cfg.hi[i])} y1={cy} y2={cy} stroke={mc} strokeWidth={2} />
            <rect x={lx(cfg.hr[i]) - sq / 2} y={cy - sq / 2} width={sq} height={sq} fill={mc} />
            <text x={cfg.labelRight} y={cy} dy="0.35em" textAnchor="end" fontSize={18} fill={lc} fontStyle={cfg.italicLabels ? 'italic' : 'normal'} fontWeight={bold}>{l}</text>
            <text x={cfg.hrX} y={cy} dy="0.35em" fontSize={17} fill={vc} fontWeight={bold}>
              {`${cfg.hr[i].toFixed(2)} (${cfg.lo[i].toFixed(2)}-${cfg.hi[i].toFixed(2)})`}
            </text>
            <text x={cfg.pX} y={cy} dy="0.35em" fontSize={17} fill={vc} fontWeight={bold}>{cfg.p[i].toFixed(2)}</text>
          </g>
        );
      })}
      {cfg.xTicks.map((t: number) => (
        <text key={t} x={x(t)} y={cfg.tickY} dy="0.35em" textAnchor="middle" fontSize={17}>{fmtSigned(t, 1)}</text>
      ))}
      <text x={cfg.titleX} y={cfg.titleY} dy="0.35em" textAnchor="middle" fontSize={cfg.titleSize} fontStyle={cfg.titleItalic ? 'italic' : 'normal'}>{cfg.title}</text>
      <text x={cfg.hrX - 1} y={cfg.headerY} dy="0.35em" fontSize={17}>HR</text>
      <text x={cfg.hrX + 40} y={cfg.headerY} dy="0.35em" fontSize={17}>(95% CI)</text>
      <text x={cfg.pX} y={cfg.headerY} dy="0.35em" fontSize={17}>log10(p)</text>
      <text x={cfg.axisTitleX} y={cfg.axisTitleY} dy="0.35em" textAnchor="middle" fontSize={cfg.axisTitleSize}>{cfg.axisTitle}</text>
    </g>
  );
}

export default function App() {
  const scatterCfgs = [
    { left: 74, pts: ptsCXCR6, xDomain: [-2.58, 2.28], yDomain: [-2.97, 2.65], yTicks: [-2, -1, 0, 1, 2] },
    { left: 308, pts: ptsCXCR3, xDomain: [-2.6, 2.3], yDomain: [-2.9, 2.9], yTicks: [-2, -1, 0, 1, 2] },
    { left: 542, pts: ptsCCR5, xDomain: [-2.56, 2.3], yDomain: [-3.32, 2.76], yTicks: [-3, -2, -1, 0, 1, 2] },
    { left: 775, pts: ptsCCR10, xDomain: [-2.65, 2.3], yDomain: [-3.24, 3.72], yTicks: [-3, -2, -1, 0, 1, 2, 3] },
  ];
  const kmCfgs = [
    { gene: 'CXCR6', left: 74, top: 367, yDomain: [0.195, 1.04], yTicks: [0.2, 0.4, 0.6, 0.8, 1.0], low: cxcr6Low, lowCens: cxcr6LowCens, high: cxcr6High, highCens: cxcr6HighCens, nLow: 151, nHigh: 153, hr: 'HR 0.38 (0.27-0.53)', p: 'p=3.7 x 10', pExp: '\u22128' },
    { gene: 'CD8B', left: 647, top: 367, yDomain: [0.249, 1.039], yTicks: [0.4, 0.6, 0.8, 1.0], low: cd8bLow, lowCens: cd8bLowCens, high: cd8bHigh, highCens: cd8bHighCens, nLow: 152, nHigh: 153, hr: 'HR 0.42 (0.3-0.6)', p: 'p=9.3 x 10', pExp: '\u22127' },
    { gene: 'CCR10', left: 75, top: 737, yDomain: [0.298, 1.035], yTicks: [0.4, 0.6, 0.8, 1.0], low: ccr10Low, lowCens: ccr10LowCens, high: ccr10High, highCens: ccr10HighCens, nLow: 149, nHigh: 154, hr: 'HR 0.73 (0.52-1.01)', p: 'p=0.058', pExp: '' },
    { gene: 'CXCR2', left: 647, top: 737, yDomain: [0.276, 1.036], yTicks: [0.4, 0.6, 0.8, 1.0], low: cxcr2Low, lowCens: cxcr2LowCens, high: cxcr2High, highCens: cxcr2HighCens, nLow: 154, nHigh: 154, hr: 'HR 1.51 (1.09-2.08)', p: 'p=0.012', pExp: '' },
  ];
  const dCfg = {
    labels: dGenes, hr: dHR, lo: dLo, hi: dHi, p: dP, nBlack: 17,
    plotLeft: 1291.7, plotRight: 1491.2, top: 346.7, bottom: 1060, xDomain: [-0.243, 0.149], xTicks: [-0.2, 0.0],
    labelRight: 1287, hrX: 1498.5, pX: 1653.6, headerY: 325,
    title: 'OS', titleX: 1391, titleY: 320, titleSize: 21, titleItalic: false,
    tickY: 1073.3, axisTitle: 'log10(HR) (95% CI) (n=454)', axisTitleX: 1409, axisTitleY: 1101.7, axisTitleSize: 20,
    italicLabels: true, boldFirst: true, valGrey: true, rightBorder: true,
  };
  const eBase = { italicLabels: false, boldFirst: false, rightBorder: false, titleItalic: true, titleSize: 20, axisTitle: 'log10(HR) (95% CI)' };
  const eCfgs = [
    { ...eBase, title: 'CXCR6', labels: eCXCR6Labels, hr: eCXCR6HR, lo: eCXCR6Lo, hi: eCXCR6Hi, p: eCXCR6P, nBlack: 4,
      plotLeft: 136.8, plotRight: 454, top: 1190, bottom: 1564, xDomain: [-0.2826, 0.082], xTicks: [-0.2, -0.1, 0.0],
      labelRight: 124.7, hrX: 459.8, pX: 615.5, headerY: 1180, titleX: 297, titleY: 1175, tickY: 1578, axisTitleX: 305, axisTitleY: 1602.7, axisTitleSize: 21, valGrey: false },
    { ...eBase, title: 'CXCR3', labels: eCXCR3Labels, hr: eCXCR3HR, lo: eCXCR3Lo, hi: eCXCR3Hi, p: eCXCR3P, nBlack: 3,
      plotLeft: 855, plotRight: 1174, top: 1190, bottom: 1564, xDomain: [-0.256, 0.091], xTicks: [-0.2, -0.1, 0.0],
      labelRight: 843, hrX: 1180, pX: 1335.9, headerY: 1180, titleX: 1018, titleY: 1175, tickY: 1578, axisTitleX: 1024, axisTitleY: 1602.7, axisTitleSize: 21, valGrey: false },
    { ...eBase, title: 'CCR5', labels: eCCR5Labels, hr: eCCR5HR, lo: eCCR5Lo, hi: eCCR5Hi, p: eCCR5P, nBlack: 2,
      plotLeft: 134.6, plotRight: 422.6, top: 1676.7, bottom: 2050.7, xDomain: [-0.267, 0.093], xTicks: [-0.2, -0.1, 0.0],
      labelRight: 117.5, hrX: 428.4, pX: 585.5, headerY: 1663, titleX: 269, titleY: 1661.7, tickY: 2063.3, axisTitleX: 289.4, axisTitleY: 2088.3, axisTitleSize: 21, valGrey: true },
    { ...eBase, title: 'CD8B', labels: eCD8BLabels, hr: eCD8BHR, lo: eCD8BLo, hi: eCD8BHi, p: eCD8BP, nBlack: 3,
      plotLeft: 856, plotRight: 1146.7, top: 1675, bottom: 2049.3, xDomain: [-0.28, 0.113], xTicks: [-0.2, -0.1, 0.0, 0.1],
      labelRight: 848.6, hrX: 1153.2, pX: 1309.1, headerY: 1663, titleX: 1008, titleY: 1660, tickY: 2062.7, axisTitleX: 1000, axisTitleY: 2086, axisTitleSize: 18, valGrey: false },
  ];

  return (
    <svg
      width={1724}
      height={2100}
      viewBox="0 0 1724 2100"
      style={{ position: 'absolute', left: 0, top: 0, background: '#fff' }}
      fontFamily={FONT}
    >
      <rect x={0} y={0} width={1724} height={2100} fill="#fff" />
      <text x={1} y={26} fontSize={26} fontWeight="bold">A</text>
      <text x={1008} y={23} fontSize={26} fontWeight="bold">B</text>
      <text x={1} y={321} fontSize={26} fontWeight="bold">C</text>
      <text x={1206} y={320} fontSize={26} fontWeight="bold">D</text>
      <text x={0} y={1146} fontSize={26} fontWeight="bold">E</text>
      {scatterCfgs.map((c, i) => (
        <Scatter key={i} {...c} title={scatterTitles[i]} ylab={scatterYLabels[i]} />
      ))}
      <PanelB />
      {kmCfgs.map((c) => (
        <KM key={c.gene} cfg={c} />
      ))}
      <Forest cfg={dCfg} />
      {eCfgs.map((c) => (
        <Forest key={c.title} cfg={c} />
      ))}
    </svg>
  );
}
